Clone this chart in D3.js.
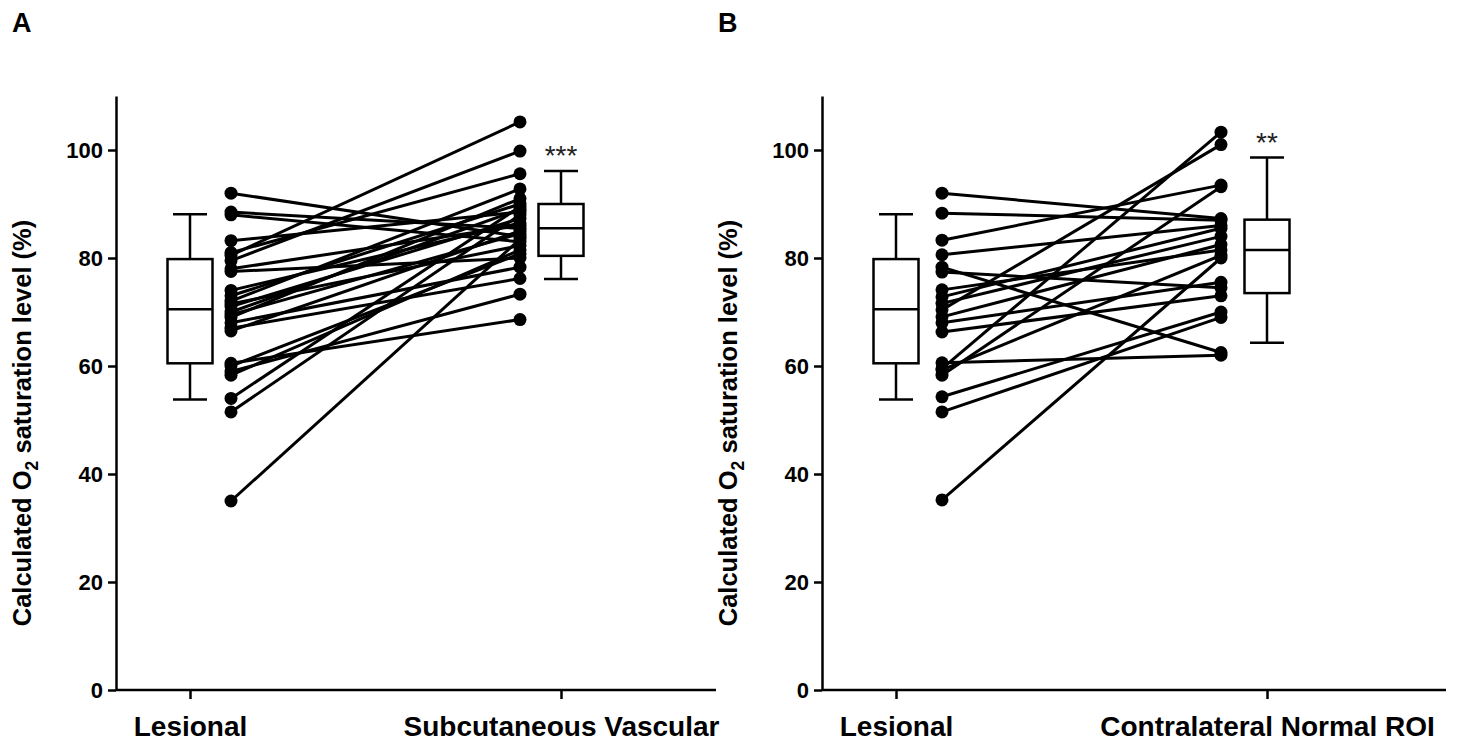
<html>
<head>
<script src="https://d3js.org/d3.v7.min.js"></script>
<style>
  body { margin: 0; background: #fff; }
  text { font-family: "Liberation Sans", Arial, sans-serif; }
</style>
</head>
<body>
<svg id="chart" width="1458" height="746"></svg>
<script>
// categories
const catsA = ["Lesional", "Subcutaneous Vascular"];
const catsB = ["Lesional", "Contralateral Normal ROI"];
const yTicks = [0, 20, 40, 60, 80, 100];

// paired values (%), panel A
const lesionalA = [92, 88.5, 88, 83.2, 81, 80.5, 79.5, 78, 77.5, 74, 73, 72, 71.5, 71, 70, 69.5, 69, 68, 67, 66.5, 60.5, 60, 59, 58.3, 54, 51.5, 35];
const vascularA = [84, 85.5, 83, 88.5, 95.6, 105.2, 99.8, 86, 80, 86.5, 90, 92.8, 82.3, 87.3, 89, 84.5, 91, 78.3, 76.2, 85, 68.6, 80.8, 73.3, 81.5, 89.5, 88, 83.5];

// paired values (%), panel B
const lesionalB = [92, 88.3, 83.3, 80.6, 78.3, 77.4, 74.1, 72.8, 71.6, 70.4, 69.1, 68, 66.3, 60.6, 59.5, 59.3, 58.3, 54.3, 51.5, 35.2];
const normalB   = [87.3, 87, 93.5, 86, 62.5, 74.5, 81.5, 85.5, 84, 101, 82.5, 75.5, 73, 62, 103.3, 80.5, 93.2, 70, 69, 80];

// box stats [lower whisker, q1, median, q3, upper whisker]
const boxLesional = [53.8, 60.5, 70.5, 79.8, 88.1];
const boxVascular = [76.1, 80.4, 85.5, 90.0, 96.1];
const boxNormal   = [64.3, 73.5, 81.5, 87.1, 98.6];

const starsA = "***";
const starsB = "**";

const svg = d3.select("#chart");
const y = d3.scaleLinear().domain([0, 110]).range([690, 96]);

function drawPanel(opt) {
  const g = svg.append("g").attr("transform", "translate(" + opt.left + ",0)");
  const x = d3.scalePoint().domain(opt.cats).range([74, 445]);
  const plotW = opt.width;

  // panel letter
  svg.append("text").attr("x", opt.left - 104).attr("y", 32)
    .attr("font-size", 27).attr("font-weight", "bold").text(opt.letter);

  // y axis
  const yAxis = d3.axisLeft(y).tickValues(yTicks).tickSize(8).tickSizeOuter(0).tickPadding(5);
  const ya = g.append("g").call(yAxis);
  ya.selectAll("path, line").attr("stroke", "#000").attr("stroke-width", 2.5);
  ya.selectAll("text").attr("font-size", 22).attr("font-weight", "bold")
    .attr("font-family", "Liberation Sans, Arial, sans-serif").attr("fill", "#000");

  // x axis
  const xAxis = d3.axisBottom(x).tickSize(9).tickSizeOuter(0).tickPadding(17);
  const xa = g.append("g").attr("transform", "translate(0,690)").call(xAxis);
  xa.select(".domain").attr("d", "M0,0H" + plotW);
  xa.selectAll("path, line").attr("stroke", "#000").attr("stroke-width", 2.5);
  xa.selectAll("text").attr("font-size", 28).attr("font-weight", "bold")
    .attr("font-family", "Liberation Sans, Arial, sans-serif").attr("fill", "#000");

  // y title
  const t = svg.append("text")
    .attr("transform", "translate(" + (opt.left - 85) + ",423) rotate(-90)")
    .attr("text-anchor", "middle").attr("font-size", 25.5).attr("font-weight", "bold");
  t.append("tspan").text("Calculated O");
  t.append("tspan").attr("font-size", 17.5).attr("dy", 7).text("2");
  t.append("tspan").attr("dy", -7).text(" saturation level (%)");

  // box plots
  const bw = 45, cw = 34;
  [[opt.cats[0], opt.boxL], [opt.cats[1], opt.boxR]].forEach(([c, b]) => {
    const cx = x(c);
    const bg = g.append("g").attr("stroke", "#000").attr("stroke-width", 2.5).attr("fill", "none");
    bg.append("line").attr("x1", cx).attr("x2", cx).attr("y1", y(b[0])).attr("y2", y(b[1]));
    bg.append("line").attr("x1", cx).attr("x2", cx).attr("y1", y(b[3])).attr("y2", y(b[4]));
    bg.append("line").attr("x1", cx - cw / 2).attr("x2", cx + cw / 2).attr("y1", y(b[0])).attr("y2", y(b[0]));
    bg.append("line").attr("x1", cx - cw / 2).attr("x2", cx + cw / 2).attr("y1", y(b[4])).attr("y2", y(b[4]));
    bg.append("rect").attr("x", cx - bw / 2).attr("width", bw)
      .attr("y", y(b[3])).attr("height", y(b[1]) - y(b[3])).attr("fill", "#fff");
    bg.append("line").attr("x1", cx - bw / 2).attr("x2", cx + bw / 2).attr("y1", y(b[2])).attr("y2", y(b[2]));
  });

  // paired lines and dots
  const x0 = x(opt.cats[0]) + opt.off, x1 = x(opt.cats[1]) - opt.off;
  const pairs = opt.left0.map((v, i) => [v, opt.right0[i]]);
  g.append("g").selectAll("line").data(pairs).join("line")
    .attr("x1", x0).attr("x2", x1)
    .attr("y1", d => y(d[0])).attr("y2", d => y(d[1]))
    .attr("stroke", "#000").attr("stroke-width", 3);
  g.append("g").selectAll("circle").data(opt.left0).join("circle")
    .attr("cx", x0).attr("cy", d => y(d)).attr("r", 6.5).attr("fill", "#000");
  g.append("g").selectAll("circle").data(opt.right0).join("circle")
    .attr("cx", x1).attr("cy", d => y(d)).attr("r", 6.5).attr("fill", "#000");

  // significance
  g.append("text").attr("x", x(opt.cats[1])).attr("y", y(opt.boxR[4]) - 6)
    .attr("text-anchor", "middle").attr("font-size", 28).attr("fill", "#222")
    .text(opt.stars);
}

drawPanel({ letter: "A", left: 116, width: 600, cats: catsA, left0: lesionalA, right0: vascularA,
  boxL: boxLesional, boxR: boxVascular, off: 41, stars: starsA });
drawPanel({ letter: "B", left: 822, width: 624, cats: catsB, left0: lesionalB, right0: normalB,
  boxL: boxLesional, boxR: boxNormal, off: 46, stars: starsB });
</script>
</body>
</html>
